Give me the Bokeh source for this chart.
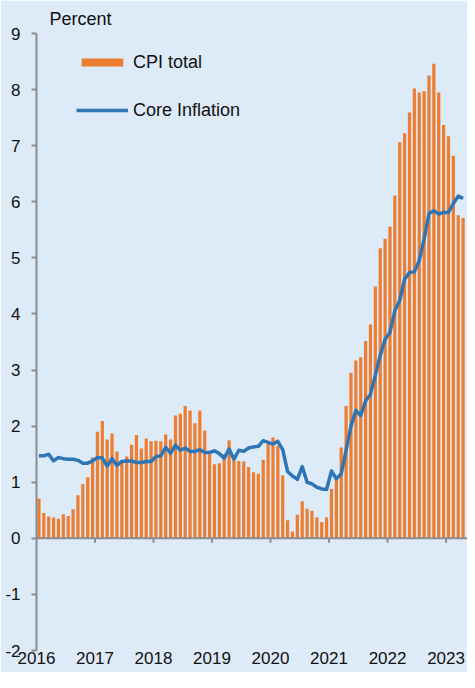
from bokeh.plotting import figure
from bokeh.models import (Range1d, FixedTicker, Span, Legend, LegendItem, ColumnDataSource)
from bokeh.embed import file_html
from bokeh.resources import INLINE

# Monthly data, Jan 2016 - Apr 2023
cpi_total = [0.71, 0.45, 0.39, 0.37, 0.35, 0.43, 0.40, 0.52, 0.77, 0.97, 1.09, 1.44,
             1.90, 2.09, 1.76, 1.87, 1.55, 1.38, 1.46, 1.67, 1.84, 1.60, 1.78, 1.73,
             1.74, 1.73, 1.85, 1.76, 2.19, 2.22, 2.36, 2.28, 2.05, 2.28, 1.92, 1.50,
             1.32, 1.34, 1.50, 1.75, 1.39, 1.38, 1.37, 1.27, 1.18, 1.15, 1.40, 1.68,
             1.80, 1.65, 1.12, 0.32, 0.12, 0.42, 0.66, 0.53, 0.49, 0.37, 0.29, 0.37,
             0.88, 1.05, 1.62, 2.36, 2.95, 3.17, 3.23, 3.52, 3.81, 4.49, 5.17, 5.34,
             5.56, 6.11, 7.06, 7.22, 7.59, 8.02, 7.95, 7.97, 8.25, 8.46, 7.95, 7.37,
             7.17, 6.82, 5.76, 5.71]
core_inflation = [1.47, 1.47, 1.50, 1.38, 1.44, 1.42, 1.41, 1.41, 1.39, 1.34, 1.34, 1.38,
                  1.44, 1.43, 1.29, 1.42, 1.30, 1.37, 1.38, 1.38, 1.35, 1.35, 1.37, 1.37,
                  1.46, 1.47, 1.62, 1.52, 1.66, 1.57, 1.61, 1.55, 1.55, 1.58, 1.53, 1.53,
                  1.56, 1.51, 1.43, 1.59, 1.41, 1.57, 1.55, 1.61, 1.63, 1.64, 1.74, 1.71,
                  1.68, 1.73, 1.58, 1.19, 1.11, 1.05, 1.28, 1.00, 0.97, 0.91, 0.88, 0.87,
                  1.20, 1.06, 1.15, 1.57, 2.00, 2.28, 2.19, 2.45, 2.57, 2.91, 3.26, 3.55,
                  3.67, 4.06, 4.24, 4.62, 4.74, 4.75, 4.95, 5.34, 5.79, 5.84, 5.78, 5.81,
                  5.81, 5.97, 6.10, 6.06]
years = ["2016", "2017", "2018", "2019", "2020", "2021", "2022", "2023"]
y_ticks = [-2, -1, 0, 1, 2, 3, 4, 5, 6, 7, 8, 9]
y_tick_labels = ["-2", "-1", "0", "1", "2", "3", "4", "5", "6", "7", "8", "9"]

months = list(range(len(cpi_total)))
xc = [m + 0.5 for m in months]
year_ticks = [12 * i for i in range(len(years))]

BG = "#DDEAF8"
AX = "#8C8C8C"
ORANGE = "#ED7D31"
BLUE = "#2E75B6"
FONT = "Liberation Sans"

src = ColumnDataSource(dict(x=xc, cpi=cpi_total, core=core_inflation))

p = figure(width=467, height=672, output_backend="svg", toolbar_location=None,
           x_range=Range1d(0, 88.4), y_range=Range1d(-2, 9),
           min_border_left=36, min_border_right=0, min_border_top=33, min_border_bottom=22,
           title="Percent")
p.background_fill_color = BG
p.border_fill_color = BG
p.outline_line_color = None
p.grid.visible = False

p.title.text_font = FONT
p.title.text_font_size = "18px"
p.title.text_font_style = "normal"
p.title.text_color = "#111111"
p.title.align = "left"
p.title.offset = 13
p.title.standoff = 9

bars = p.vbar(x="x", top="cpi", bottom=0, width=0.66, source=src,
              fill_color=ORANGE, line_color=None)
line = p.line(x="x", y="core", source=src, line_color=BLUE, line_width=3.5,
              line_join="round")

# zero line with year tick marks
p.add_layout(Span(location=0, dimension="width", line_color=AX, line_width=2))
tick_len = 4.5 / 56.1
p.segment(x0=year_ticks[1:], x1=year_ticks[1:], y0=[0] * (len(years) - 1),
          y1=[-tick_len] * (len(years) - 1), line_color=AX, line_width=2)

# y axis
ya = p.yaxis[0]
ya.ticker = FixedTicker(ticks=y_ticks)
ya.major_label_overrides = {t: s for t, s in zip(y_ticks, y_tick_labels)}
ya.axis_line_color = AX
ya.axis_line_width = 2
ya.major_tick_line_color = AX
ya.major_tick_line_width = 2
ya.major_tick_in = 0
ya.major_tick_out = 5
ya.minor_tick_line_color = None
ya.major_label_text_font = FONT
ya.major_label_text_font_size = "17px"
ya.major_label_text_color = "#111111"
ya.major_label_standoff = 11

# x axis: labels only at bottom
xa = p.xaxis[0]
xa.ticker = FixedTicker(ticks=year_ticks)
xa.major_label_overrides = {t: y for t, y in zip(year_ticks, years)}
xa.axis_line_color = None
xa.major_tick_line_color = None
xa.minor_tick_line_color = None
xa.major_tick_in = 0
xa.major_tick_out = 0
xa.major_label_standoff = 1
xa.major_label_text_font = FONT
xa.major_label_text_font_size = "17px"
xa.major_label_text_color = "#111111"

legend = Legend(items=[LegendItem(label="CPI total", renderers=[bars]),
                       LegendItem(label="Core Inflation", renderers=[line])],
                location=(40, 529), orientation="vertical",
                glyph_width=52, glyph_height=10, label_standoff=5, spacing=26,
                padding=0, margin=0, label_height=22,
                background_fill_alpha=0, border_line_color=None,
                label_text_font=FONT, label_text_font_size="18px", label_text_color="#111111")
p.add_layout(legend)

open("out.html", "w").write(file_html(p, INLINE))
